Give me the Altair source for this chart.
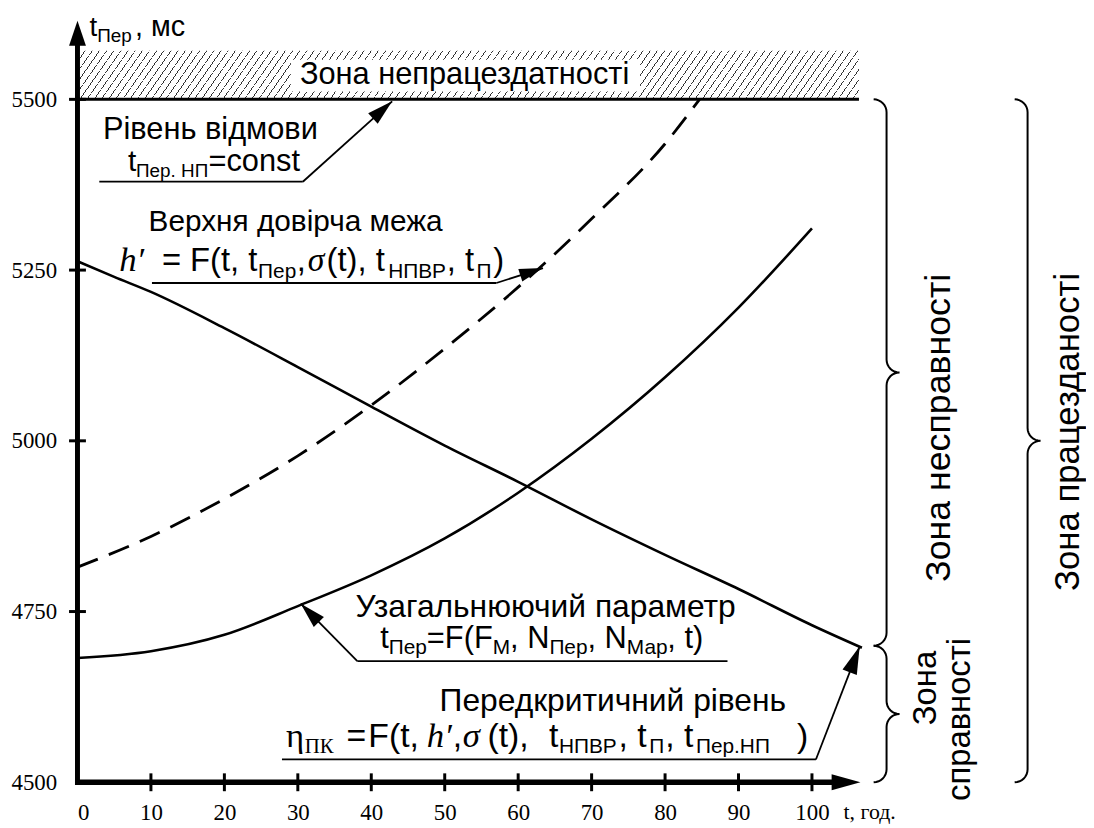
import math
import altair as alt
import pandas as pd

# ---------------- values ----------------
# generalised parameter t_Пер (solid, rising)
t_general = [0, 10, 20, 30, 40, 50, 60, 70, 80, 90, 100]
v_general = [4682, 4692, 4716, 4758, 4803, 4857, 4924, 5003, 5093, 5195, 5311]
# pre-critical level (solid, falling)
t_precrit = [0, 5, 10, 20, 30, 40, 50, 60, 70, 80, 90, 100, 106.8]
v_precrit = [5263, 5240, 5218, 5165, 5108, 5050, 4993, 4940, 4885, 4833, 4783, 4730, 4697]
# upper confidence limit h' (dashed)
t_upper = [0, 10, 20, 30, 40, 50, 60, 70, 80, 84.7]
v_upper = [4815, 4860, 4915, 4978, 5052, 5135, 5225, 5325, 5435, 5500]

x_tick_values = [0, 10, 20, 30, 40, 50, 60, 70, 80, 90, 100]
y_tick_values = [4500, 4750, 5000, 5250, 5500]

failure_level = 5500
precritical_level = 4700
hatch_top = 5571
t_line_end = 106.4
t_axis_tip = 106.6
v_axis_tip = 5615

# ---------------- scales / layout ----------------
T_MAX = 136.5
V_MIN, V_MAX = 4500, 5625
PLOT_W, PLOT_H = 1010, 774
PX_T = PLOT_W / T_MAX
PX_V = PLOT_H / (V_MAX - V_MIN)

xs = alt.Scale(domain=[0, T_MAX], nice=False, zero=False)
ys = alt.Scale(domain=[V_MIN, V_MAX], nice=False, zero=False)
x_axis = alt.Axis(values=x_tick_values, format="d", title=None, ticks=False, domain=False,
                  grid=False, labelPadding=19)
y_axis = alt.Axis(values=y_tick_values, format="d", title=None, ticks=False, domain=False,
                  grid=False, labelPadding=21)


def X(f="t"):
    return alt.X(f"{f}:Q", scale=xs, axis=x_axis)


def Y(f="v"):
    return alt.Y(f"{f}:Q", scale=ys, axis=y_axis)


layers = []

# ---------------- hatched zone (gradient stripes) ----------------
hatch_df = pd.DataFrame({"t": [0], "t2": [t_line_end], "v": [failure_level], "v2": [hatch_top]})
theta = math.radians(55)
Wpx = t_line_end * PX_T
Hpx = (hatch_top - failure_level) * PX_V
s, c = math.sin(theta), math.cos(theta)
k = (Wpx * s + Hpx * c) / (Wpx ** 2 * s ** 2 + Hpx ** 2 * c ** 2)
gx, gy = k * Wpx * s, k * Hpx * c
L = Wpx * s + Hpx * c
N = int(L / (7.2 * s))
frac = 0.13
stops = []
for i in range(N):
    o0, o1 = i / N, (i + frac) / N
    stops += [alt.GradientStop(offset=o0, color="white"), alt.GradientStop(offset=o0, color="#333"),
              alt.GradientStop(offset=o1, color="#333"), alt.GradientStop(offset=o1, color="white")]
grad = alt.LinearGradient(gradient="linear", stops=stops, x1=0, y1=0, x2=gx, y2=gy)
layers.append(alt.Chart(hatch_df).mark_rect(fill=grad).encode(x=X(), x2="t2:Q", y=Y(), y2="v2:Q"))

# white box behind the zone title
box_df = pd.DataFrame({"t": [29.05], "t2": [76.6], "v": [5511.6], "v2": [5558]})
layers.append(alt.Chart(box_df).mark_rect(fill="white").encode(x=X(), x2="t2:Q", y=Y(), y2="v2:Q"))

# ---------------- curves ----------------
solid = pd.DataFrame({
    "t": t_general + t_precrit,
    "v": v_general + v_precrit,
    "s": ["general"] * len(t_general) + ["precrit"] * len(t_precrit),
})
layers.append(alt.Chart(solid).mark_line(color="black", strokeWidth=2.6, interpolate="monotone").encode(
    x=X(), y=Y(), detail="s:N"))
dashed = pd.DataFrame({"t": t_upper, "v": v_upper})
layers.append(alt.Chart(dashed).mark_line(color="black", strokeWidth=2.8, strokeDash=[22, 12],
                                          interpolate="monotone").encode(x=X(), y=Y()))

# ---------------- straight lines: axes, level line, leaders ----------------
leaders = [
    # (underline start, underline end / leader start, arrow tip, arrow length px)
    ((2.97, 5379.4), (30.68, 5379.4), (42.84, 5497.1), 26),
    ((10.14, 5231.1), (57.03, 5231.1), (63.38, 5252.9), 24),
    ((88.5, 4677.3), (38.1, 4677.3), (30.4, 4761.6), 26),
    ((27.84, 4533.4), (100.54, 4533.4), (106.5, 4699.1), 28),
]
segs = [
    dict(t=0, v=V_MIN, t2=0, v2=5597, sw=5),
    dict(t=-0.34, v=V_MIN, t2=104.6, v2=V_MIN, sw=5.5),
    dict(t=0, v=failure_level, t2=t_line_end, v2=failure_level, sw=3),
]
arrows = []
for a, b, tip, ln in leaders:
    segs.append(dict(t=a[0], v=a[1], t2=b[0], v2=b[1], sw=1.8))
    segs.append(dict(t=b[0], v=b[1], t2=tip[0], v2=tip[1], sw=1.8))
    dx = (tip[0] - b[0]) * PX_T
    dy = -(tip[1] - b[1]) * PX_V
    d = math.hypot(dx, dy)
    ux, uy = dx / d, dy / d
    arrows.append(dict(t=tip[0] - ux * ln / 2 / PX_T, v=tip[1] + uy * ln / 2 / PX_V,
                       ang=math.degrees(math.atan2(dx, -dy)) % 360, sz=ln * ln))
seg_df = pd.DataFrame(segs)
layers.append(alt.Chart(seg_df).mark_rule(color="black", strokeCap="butt").encode(
    x=X(), y=Y(), x2="t2:Q", y2="v2:Q", strokeWidth=alt.StrokeWidth("sw:Q", scale=None)))

arr_df = pd.DataFrame(arrows)
layers.append(alt.Chart(arr_df).mark_point(shape="M0,-1L0.55,1L-0.55,1Z", filled=True, color="black",
                                           opacity=1, strokeWidth=0).encode(
    x=X(), y=Y(), angle=alt.Angle("ang:Q", scale=None), size=alt.Size("sz:Q", scale=None)))

# axis arrow heads
yhead = pd.DataFrame({"t": [0], "v": [v_axis_tip - 12.5 / PX_V]})
layers.append(alt.Chart(yhead).mark_point(shape="M0,-1L0.68,1L-0.68,1Z", filled=True, color="black",
                                          opacity=1, size=625, strokeWidth=0).encode(x=X(), y=Y()))
xhead = pd.DataFrame({"t": [t_axis_tip - 14.5 / PX_T], "v": [V_MIN]})
layers.append(alt.Chart(xhead).mark_point(shape="M1,0L-1,-0.55L-1,0.55Z", filled=True, color="black",
                                          opacity=1, size=841, strokeWidth=0).encode(x=X(), y=Y()))

# crossing ticks
xt = pd.DataFrame({"t": x_tick_values[1:], "v": [V_MIN] * (len(x_tick_values) - 1)})
layers.append(alt.Chart(xt).mark_tick(orient="vertical", size=18, thickness=3, color="black",
                                      opacity=1).encode(x=X(), y=Y()))
yt = pd.DataFrame({"t": [0] * (len(y_tick_values) - 1), "v": y_tick_values[1:]})
layers.append(alt.Chart(yt).mark_tick(orient="horizontal", size=17, thickness=3, color="black",
                                      opacity=1).encode(x=X(), y=Y()))


# ---------------- braces ----------------
def brace_points(t0, v_top, v_bot, r_px=13, n=8):
    rt, rv = r_px / PX_T, r_px / PX_V
    vm = (v_top + v_bot) / 2
    pts = []

    def arc(ct, cv, a0, a1):
        for j in range(n + 1):
            ang = math.radians(a0 + (a1 - a0) * j / n)
            pts.append((ct + rt * math.cos(ang), cv + rv * math.sin(ang)))

    arc(t0, v_top - rv, 90, 0)
    arc(t0 + 2 * rt, vm + rv, 180, 270)
    arc(t0 + 2 * rt, vm - rv, 90, 180)
    arc(t0, v_bot + rv, 0, -90)
    return pts


braces = [("b1", 108.4, failure_level, precritical_level),
          ("b2", 108.4, precritical_level, V_MIN),
          ("b3", 127.6, failure_level, V_MIN)]
brows = []
for name, t0, vt, vb in braces:
    for i, (tt, vv) in enumerate(brace_points(t0, vt, vb)):
        brows.append(dict(b=name, i=i, t=tt, v=vv))
brace_df = pd.DataFrame(brows)
layers.append(alt.Chart(brace_df).mark_line(color="black", strokeWidth=2).encode(
    x=X(), y=Y(), detail="b:N", order="i:Q"))

# ---------------- texts ----------------
sans_left = pd.DataFrame([
    # axis title t_Пер, мс
    (1.62, 5593.0, "t", 28), (2.70, 5584.3, "Пер", 19), (7.84, 5593.0, ", мс", 29),
    # t_Пер.НП = const
    (6.89, 5395.3, "t", 30), (7.97, 5386.6, "Пер. НП", 19), (17.84, 5395.3, "=const", 31),
    # h' = F(t, t_Пер, σ(t), t_НПВР, t_П)
    (11.49, 5248.5, "= F(t, t", 33), (24.59, 5238.4, "Пер", 21), (29.86, 5248.5, ",", 33),
    (33.92, 5248.5, "(t), t", 33), (42.30, 5238.4, "НПВР", 21), (50.27, 5248.5, ", t", 33),
    (54.32, 5238.4, "П", 21), (56.62, 5248.5, ")", 33),
    # generalised parameter
    (37.84, 4742.7, "Узагальнюючий параметр", 32),
    (41.22, 4696.2, "t", 31), (42.38, 4687.5, "Пер", 21), (47.57, 4696.2, "=F(F", 31),
    (56.53, 4687.5, "М", 21), (58.90, 4696.2, ", N", 31), (64.25, 4687.5, "Пер", 21),
    (69.44, 4696.2, ", N", 31), (74.79, 4687.5, "Мар", 21), (80.31, 4696.2, ", t)", 31),
    # pre-critical level
    (49.3, 4604.6, "Передкритичний рівень", 32),
    (36.63, 4552.3, "=", 34), (39.60, 4552.3, "F(t,", 34), (51.09, 4552.3, ",", 34),
    (55.82, 4552.3, "(t),", 34), (64.20, 4552.3, "t", 34), (65.55, 4543.6, "НПВР", 21),
    (73.66, 4552.3, ", t", 34), (77.85, 4543.6, "П", 21),
    (80.01, 4552.3, ", t", 34), (84.20, 4543.6, "Пер.НП", 21),
    (97.98, 4552.3, ")", 34),
], columns=["t", "v", "text", "fs"])
sans_center = pd.DataFrame([
    (52.7, 5521.8, "Зона непрацездатності", 31),
    (18.1, 5441.9, "Рівень відмови", 31),
    (29.7, 5306.7, "Верхня довірча межа", 30),
], columns=["t", "v", "text", "fs"])
serif_italic = pd.DataFrame([
    (5.68, 5248.5, "h′", 35), (31.35, 5248.5, "σ", 34),
    (47.57, 4552.3, "h′", 35), (52.44, 4552.3, "σ", 35),
], columns=["t", "v", "text", "fs"])
serif_up = pd.DataFrame([
    (28.38, 4552.3, "η", 35), (30.95, 4543.6, "ПК", 21),
    (104.3, 4446.2, "t, год.", 22),
], columns=["t", "v", "text", "fs"])
rotated = pd.DataFrame([
    (117.3, 5019, "Зона несправності", 36),
    (134.9, 5013, "Зона працезданості", 35),
    (115.5, 4638, "Зона", 33),
    (120.1, 4592, "справності", 33),
], columns=["t", "v", "text", "fs"])


def text_layer(df, **kw):
    return alt.Chart(df).mark_text(color="black", **kw).encode(
        x=X(), y=Y(), text="text:N", size=alt.Size("fs:Q", scale=None))


layers.append(text_layer(sans_left, align="left", baseline="alphabetic", font="Liberation Sans"))
layers.append(text_layer(sans_center, align="center", baseline="alphabetic", font="Liberation Sans"))
layers.append(text_layer(serif_italic, align="left", baseline="alphabetic", font="Liberation Serif",
                         fontStyle="italic"))
layers.append(text_layer(serif_up, align="left", baseline="alphabetic", font="Liberation Serif"))
layers.append(text_layer(rotated, align="center", baseline="middle", font="Liberation Sans", angle=270))

chart = alt.layer(*layers).properties(
    width=PLOT_W, height=PLOT_H,
    padding={"left": 70, "top": 3, "right": 6, "bottom": 40},
    autosize=alt.AutoSizeParams(type="none"),
    background="white",
).configure_view(stroke=None).configure_axis(
    labelFont="Liberation Serif", labelFontSize=23, labelColor="black", labelPadding=19,
)

chart.save("out.html", embed_options={"renderer": "svg", "actions": False})
